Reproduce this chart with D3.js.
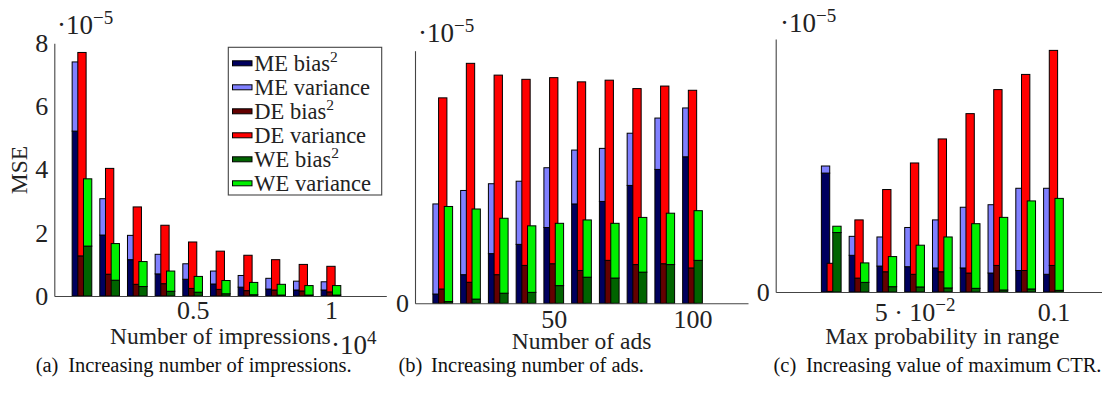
<!DOCTYPE html>
<html>
<head>
<meta charset="utf-8">
<script src="https://cdn.jsdelivr.net/npm/d3@7"></script>
<style>
  html, body { margin: 0; padding: 0; background: #fff; }
  svg { display: block; font-family: "Liberation Serif", "DejaVu Serif", serif; }
</style>
</head>
<body>
<svg id="chart" width="1102" height="394"></svg>
<script>
// ---- Panel (a): increasing number of impressions (values in units of 1e-5)
const aCategories = [1000, 2000, 3000, 4000, 5000, 6000, 7000, 8000, 9000, 10000];
const aMEbias = [5.22, 1.93, 1.15, 0.70, 0.53, 0.38, 0.28, 0.22, 0.19, 0.19];
const aMEvar  = [2.19, 1.15, 0.77, 0.62, 0.49, 0.41, 0.37, 0.34, 0.28, 0.26];
const aDEbias = [1.27, 0.69, 0.37, 0.39, 0.24, 0.21, 0.17, 0.19, 0.16, 0.13];
const aDEvar  = [6.44, 3.35, 2.45, 1.85, 1.47, 1.21, 1.12, 0.96, 0.84, 0.81];
const aWEbias = [1.58, 0.50, 0.30, 0.15, 0.12, 0.07, 0.04, 0.03, 0.03, 0.03];
const aWEvar  = [2.13, 1.16, 0.79, 0.64, 0.50, 0.42, 0.39, 0.34, 0.30, 0.30];
const aYTicks = [0, 2, 4, 6, 8];
const aXTicks = [5000, 10000];
const aXTickLabels = ["0.5", "1"];

// ---- Panel (b): increasing number of ads
const bCategories = [10, 20, 30, 40, 50, 60, 70, 80, 90, 100];
const bMEbias = [0.11, 0.34, 0.59, 0.70, 0.90, 1.18, 1.21, 1.40, 1.59, 1.74];
const bMEvar  = [1.07, 1.00, 0.83, 0.75, 0.71, 0.64, 0.63, 0.62, 0.61, 0.58];
const bDEbias = [0.17, 0.25, 0.34, 0.45, 0.47, 0.39, 0.51, 0.46, 0.47, 0.42];
const bDEvar  = [2.27, 2.60, 2.37, 2.21, 2.21, 2.24, 2.14, 2.09, 2.11, 2.11];
const bWEbias = [0.02, 0.05, 0.12, 0.13, 0.21, 0.31, 0.30, 0.37, 0.46, 0.51];
const bWEvar  = [1.13, 1.07, 0.89, 0.79, 0.74, 0.68, 0.65, 0.65, 0.61, 0.59];
const bYTicks = [0];
const bXTicks = [50, 100];
const bXTickLabels = ["50", "100"];

// ---- Panel (c): increasing value of maximum CTR
const cCategories = [0.02, 0.03, 0.04, 0.05, 0.06, 0.07, 0.08, 0.09, 0.10];
const cMEbias = [0.94, 0.29, 0.205, 0.20, 0.19, 0.19, 0.15, 0.17, 0.14];
const cMEvar  = [0.056, 0.15, 0.23, 0.31, 0.38, 0.48, 0.54, 0.65, 0.68];
const cDEbias = [0.005, 0.11, 0.16, 0.14, 0.16, 0.15, 0.21, 0.17, 0.21];
const cDEvar  = [0.222, 0.46, 0.65, 0.88, 1.05, 1.26, 1.39, 1.55, 1.70];
const cWEbias = [0.47, 0.076, 0.042, 0.04, 0.032, 0.029, 0.016, 0.024, 0.013];
const cWEvar  = [0.05, 0.154, 0.238, 0.33, 0.403, 0.511, 0.574, 0.696, 0.727];
const cYTicks = [0];
const cXTicks = [0.05, 0.1];

// ---- Legend entries
const legendLabels = [
  ["ME bias", "2"], ["ME variance", ""],
  ["DE bias", "2"], ["DE variance", ""],
  ["WE bias", "2"], ["WE variance", ""]
];
const colors = {
  MEbias: "#00005e", MEvar: "#8080ff",
  DEbias: "#640000", DEvar: "#ff0000",
  WEbias: "#006400", WEvar: "#00f000"
};
const legendColors = [colors.MEbias, colors.MEvar, colors.DEbias, colors.DEvar, colors.WEbias, colors.WEvar];

const svg = d3.select("#chart");
const TICK_FONT = 26, LABEL_FONT = 23.5, EXP_FONT = 27, SUP_FONT = 19;

// "·10" followed by a raised exponent
function powerLabel(x, y, exp) {
  const t = svg.append("text").attr("x", x).attr("y", y).attr("font-size", EXP_FONT).attr("fill", "#222");
  t.append("tspan").text("·10");
  t.append("tspan").attr("dy", -10).attr("font-size", SUP_FONT).text(exp);
  return t;
}

function panel(cfg) {
  const x = d3.scaleLinear().domain(cfg.xDomain).range([cfg.left, cfg.right]);
  const y = d3.scaleLinear().domain(cfg.yDomain).range([cfg.bottom, cfg.top]);
  const g = svg.append("g");

  // stacked bars: ME, DE, WE side by side, slightly overlapping
  const step = x(cfg.cats[1]) - x(cfg.cats[0]);
  const bw = step * 0.30, off = step * 0.205;
  const methods = [
    { bias: cfg.MEbias, vari: cfg.MEvar, cb: colors.MEbias, cv: colors.MEvar, k: -1 },
    { bias: cfg.DEbias, vari: cfg.DEvar, cb: colors.DEbias, cv: colors.DEvar, k: 0 },
    { bias: cfg.WEbias, vari: cfg.WEvar, cb: colors.WEbias, cv: colors.WEvar, k: 1 }
  ];
  methods.forEach(m => {
    const rows = cfg.cats.map((c, i) => ({ c, b: m.bias[i], v: m.vari[i] }));
    const mg = g.append("g");
    mg.selectAll("rect.bias").data(rows).join("rect")
      .attr("x", d => x(d.c) + m.k * off - bw / 2)
      .attr("width", bw)
      .attr("y", d => y(d.b))
      .attr("height", d => y(0) - y(d.b))
      .attr("fill", m.cb).attr("stroke", "#000").attr("stroke-width", 1);
    mg.selectAll("rect.var").data(rows).join("rect")
      .attr("x", d => x(d.c) + m.k * off - bw / 2)
      .attr("width", bw)
      .attr("y", d => y(d.b + d.v))
      .attr("height", d => y(d.b) - y(d.b + d.v))
      .attr("fill", m.cv).attr("stroke", "#000").attr("stroke-width", 1);
  });

  // axes
  const xAxis = d3.axisBottom(x).tickValues(cfg.xTicks).tickSize(0).tickSizeOuter(0)
    .tickFormat((d, i) => cfg.xTickLabels ? cfg.xTickLabels[i] : "");
  const yAxis = d3.axisLeft(y).tickValues(cfg.yTicks).tickSize(0).tickSizeOuter(0).tickPadding(6)
    .tickFormat(d3.format("d"));
  const gx = g.append("g").attr("transform", `translate(0,${cfg.bottom})`).call(xAxis);
  const gy = g.append("g").attr("transform", `translate(${cfg.left},0)`).call(yAxis);
  [gx, gy].forEach(a => {
    a.attr("font-family", null);
    a.select(".domain").attr("stroke", "#444").attr("stroke-width", 1.1);
    a.selectAll("text").attr("font-size", TICK_FONT).attr("fill", "#222");
  });
  gx.selectAll("text").attr("dy", null).attr("y", cfg.tickBaseline);
  if (cfg.tickDecorate) cfg.tickDecorate(gx, x);

  // axis title
  g.append("text")
    .attr("x", (cfg.left + cfg.right) / 2).attr("y", cfg.titleY)
    .attr("text-anchor", "middle").attr("font-size", LABEL_FONT).attr("fill", "#222")
    .text(cfg.xTitle);

  // exponent marker above the y axis
  powerLabel(cfg.expX, cfg.expY, "−5");

  return { x, y, g };
}

// (a)
panel({
  cats: aCategories, MEbias: aMEbias, MEvar: aMEvar, DEbias: aDEbias, DEvar: aDEvar, WEbias: aWEbias, WEvar: aWEvar,
  xDomain: [0, 12000], yDomain: [0, 8], left: 54.3, right: 386.3, top: 43.3, bottom: 296,
  xTicks: aXTicks, xTickLabels: aXTickLabels, yTicks: aYTicks, tickBaseline: 22.5,
  xTitle: "Number of impressions", titleY: 344, expX: 57, expY: 33.5
});
// ·10^4 multiplier under the x axis
powerLabel(331, 354, "4");

// y title
svg.append("text").attr("transform", "translate(27,170) rotate(-90)")
  .attr("text-anchor", "middle").attr("font-size", LABEL_FONT).attr("fill", "#222").text("MSE");

// legend
const lg = svg.append("g");
lg.append("rect").attr("x", 228.3).attr("y", 47.3).attr("width", 153.4).attr("height", 147.7)
  .attr("fill", "#fff").attr("stroke", "#444").attr("stroke-width", 1.1);
legendLabels.forEach((lab, i) => {
  const cy = 63.3 + 24 * i;
  lg.append("rect").attr("x", 232.5).attr("y", cy - 2.5).attr("width", 19.5).attr("height", 5)
    .attr("fill", legendColors[i]).attr("stroke", "#000").attr("stroke-width", 1);
  const t = lg.append("text").attr("x", 254.3).attr("y", cy + 7.5).attr("font-size", 22.5).attr("fill", "#222");
  t.append("tspan").text(lab[0]);
  if (lab[1]) t.append("tspan").attr("dy", -9).attr("font-size", 15.5).text(lab[1]);
});

// (b)
panel({
  cats: bCategories, MEbias: bMEbias, MEvar: bMEvar, DEbias: bDEbias, DEvar: bDEvar, WEbias: bWEbias, WEvar: bWEvar,
  xDomain: [0, 120], yDomain: [0, 3], left: 415, right: 748, top: 50.7, bottom: 303.3,
  xTicks: bXTicks, xTickLabels: bXTickLabels, yTicks: bYTicks, tickBaseline: 24.5,
  xTitle: "Number of ads", titleY: 348.5, expX: 418, expY: 42
});

// (c)
panel({
  cats: cCategories, MEbias: cMEbias, MEvar: cMEvar, DEbias: cDEbias, DEvar: cDEvar, WEbias: cWEbias, WEvar: cWEvar,
  xDomain: [0, 0.12], yDomain: [0, 2], left: 775.7, right: 1109, top: 39, bottom: 292,
  xTicks: cXTicks, xTickLabels: null, yTicks: cYTicks, tickBaseline: 29,
  xTitle: "Max probability in range", titleY: 344, expX: 780, expY: 32,
  tickDecorate: (gx) => {
    gx.selectAll(".tick text").each(function (d) {
      const t = d3.select(this);
      t.text(null);
      if (d === 0.05) {
        t.append("tspan").text("5 · 10");
        t.append("tspan").attr("dy", -10).attr("font-size", SUP_FONT).text("−2");
      } else {
        t.append("tspan").text("0.1");
      }
    });
  }
});

// captions
const captions = [
  { x: 35.7, label: "(a)", text: "Increasing number of impressions." },
  { x: 398.5, label: "(b)", text: "Increasing number of ads." },
  { x: 773.5, label: "(c)", text: "Increasing value of maximum CTR." }
];
captions.forEach(c => {
  svg.append("text").attr("x", c.x).attr("y", 372).attr("font-size", 20.5).attr("fill", "#111").text(c.label);
  svg.append("text").attr("x", c.x + 32.5).attr("y", 372).attr("font-size", 20.5).attr("fill", "#111").text(c.text);
});
</script>
</body>
</html>
